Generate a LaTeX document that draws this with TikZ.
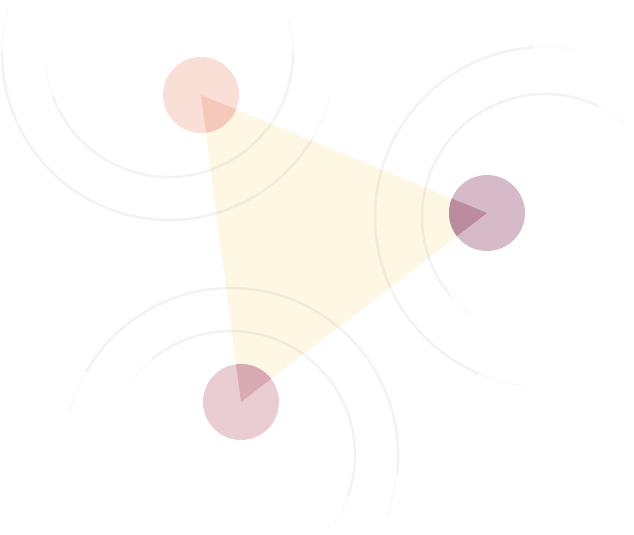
\documentclass[tikz,border=0pt]{standalone}
\usetikzlibrary{positioning}
\definecolor{sunpale}{HTML}{FDF7E3}
\definecolor{peach}{HTML}{F9DFD6}
\definecolor{peachdeep}{HTML}{F5C9BA}
\definecolor{plum}{HTML}{D7BAC7}
\definecolor{plumdeep}{HTML}{BA8C9E}
\definecolor{rose}{HTML}{E9CDD3}
\definecolor{rosedeep}{HTML}{D9AAB3}
\tikzset{
  dot/.style={circle, minimum size=76pt, inner sep=0pt},
  ripple/.style={line width=2.5pt, draw=black, draw opacity=0.03, line cap=round},
  ripplefade/.style={ripple, draw opacity=0.015}
}

\begin{document}
\begin{tikzpicture}[x=1pt, y=-1pt]
  \useasboundingbox (0,0) rectangle (634,535);
  % corners
  \node[dot] (peachdot) at (201,95) {};
  \node[dot] (plumdot) at (487,213) {};
  \node[dot] (rosedot) at (241,402) {};
  % triangle
  \fill[sunpale] (peachdot.center) -- (plumdot.center) -- (rosedot.center) -- cycle;
  \fill[peach] (peachdot.center) circle[radius=38];
  \fill[plum] (plumdot.center) circle[radius=38];
  \fill[rose] (rosedot.center) circle[radius=38];
  \begin{scope}
    \clip (peachdot.center) -- (plumdot.center) -- (rosedot.center) -- cycle;
    \fill[peachdeep] (peachdot.center) circle[radius=38];
    \fill[plumdeep] (plumdot.center) circle[radius=38];
    \fill[rosedeep] (rosedot.center) circle[radius=38];
  \end{scope}
  % ripples, faded at both ends
  \coordinate (waveA) at (169,53);
  \coordinate (waveB) at (545,217);
  \coordinate (waveC) at (231,455);
  \foreach \c/\r/\s/\e in {waveA/124/-186/-375, waveA/167/-164/-344,
                           waveB/123/-50/-234, waveB/170/-79/-262,
                           waveC/124/34/-144, waveC/167/21/-165} {
    \draw[ripplefade] ([shift={(\s:\r)}]\c) arc[start angle=\s, end angle=\e, radius=\r];
    \draw[ripple] ([shift={(\s-15:\r)}]\c) arc[start angle=\s-15, end angle=\e+15, radius=\r];
  }
\end{tikzpicture}
\end{document}
